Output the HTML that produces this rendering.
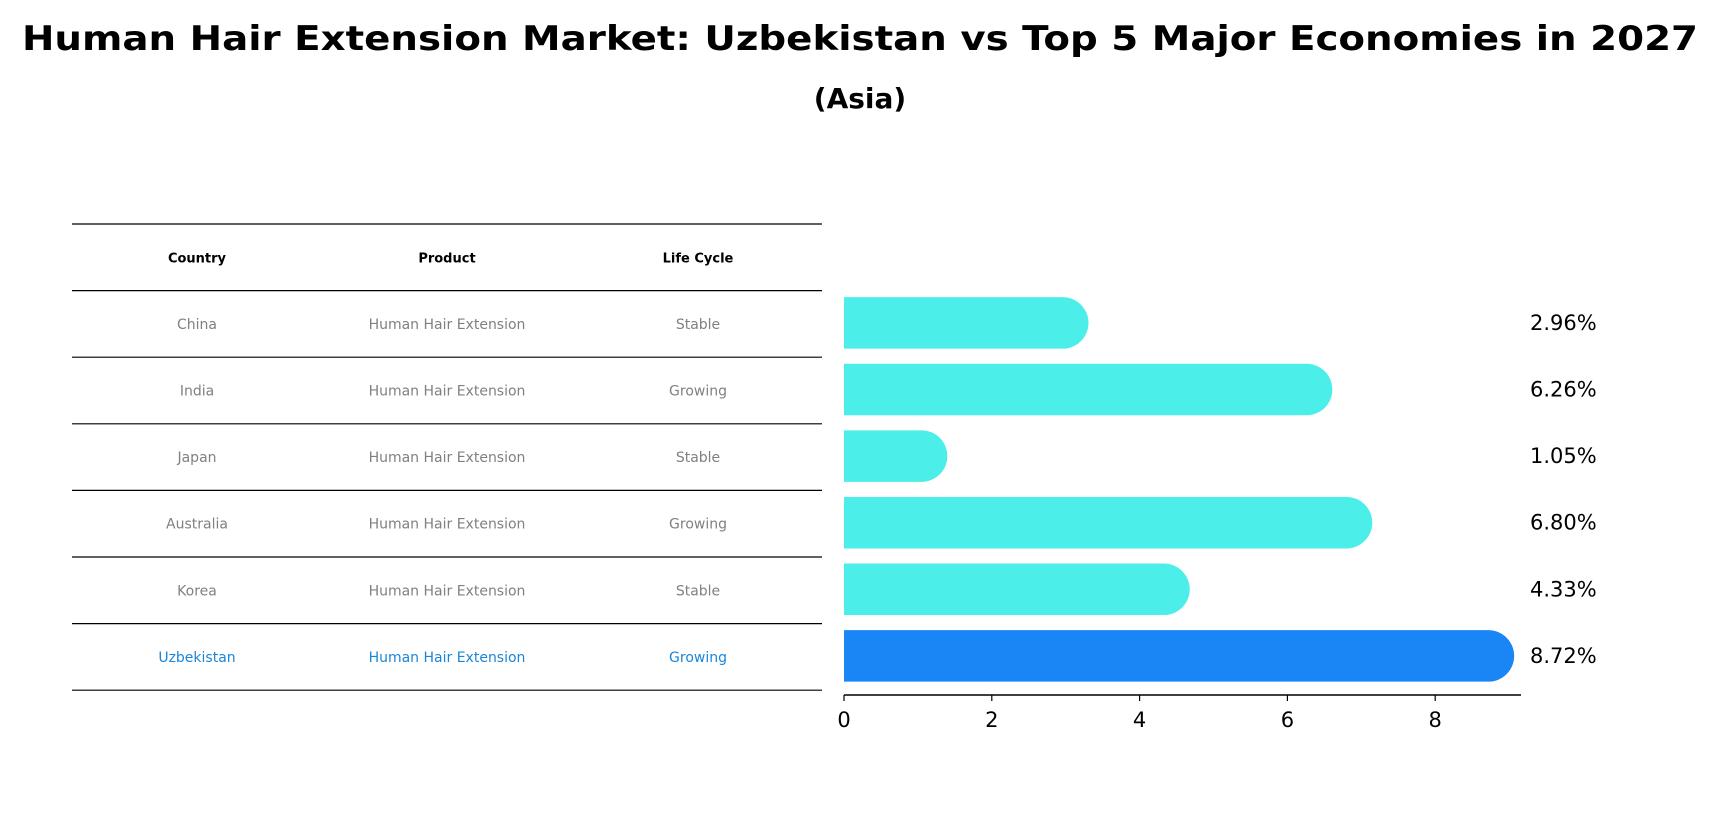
<!DOCTYPE html>
<html><head><meta charset="utf-8"><style>
html,body{margin:0;padding:0;background:#fff;}
svg{display:block;font-family:"DejaVu Sans","Liberation Sans",sans-serif;}
</style></head><body>
<svg id="chart" width="1719" height="823" viewBox="0 0 1719 823">
<text x="860" y="50" text-anchor="middle" font-size="34" font-weight="bold" textLength="1676" lengthAdjust="spacingAndGlyphs">Human Hair Extension Market: Uzbekistan vs Top 5 Major Economies in 2027</text>
<text x="860" y="108" text-anchor="middle" font-size="28" font-weight="bold">(Asia)</text>
<g id="table"></g>
<g id="bars"></g>
</svg>
<script>
const countries = ["China","India","Japan","Australia","Korea","Uzbekistan"];
const products = ["Human Hair Extension","Human Hair Extension","Human Hair Extension","Human Hair Extension","Human Hair Extension","Human Hair Extension"];
const lifeCycles = ["Stable","Growing","Stable","Growing","Stable","Growing"];
const growth = [2.96,6.26,1.05,6.80,4.33,8.72];
const tickValues = [0,2,4,6,8];
const headers = ["Country","Product","Life Cycle"];

const NS="http://www.w3.org/2000/svg";
function mk(tag,attrs,parent){const e=document.createElementNS(NS,tag);for(const k in attrs)e.setAttribute(k,attrs[k]);parent.appendChild(e);return e;}
const table=document.getElementById('table');
const bars=document.getElementById('bars');
const lineYs0=224, rowH=66.6, tx0=72, tx1=822;
const colX=[197,447,698];
// header
headers.forEach((h,i)=>{
  const t=mk('text',{x:colX[i],y:lineYs0+rowH/2+5,'text-anchor':'middle','font-size':13,'font-weight':'bold',fill:'#000'},table);
  t.textContent=h;
  
  
});
for(let i=0;i<=countries.length+1;i++){
  const y=lineYs0+i*rowH;
  const l=mk('line',{x1:tx0,x2:tx1,y1:y,y2:y,stroke:'#000','stroke-width':1.2},table);
  
  
}
// bar axis
const x0=844, unit=73.9, barH=51.5;
function xs(v){return x0+v*unit;}
function rowY(i){return lineYs0+rowH*(i+1.5);}
countries.forEach((c,i)=>{
  const hl=(c==="Uzbekistan");
  const col=hl?'#1a86d8':'#808080';
  const yc=rowY(i)+5;
  [c,products[i],lifeCycles[i]].forEach((txt,j)=>{
    const t=mk('text',{x:colX[j],y:yc,'text-anchor':'middle','font-size':14,fill:col},table);
    t.textContent=txt;
    
    
  });
  const by=rowY(i)-1;
  const xe=xs(growth[i]);
  const r=barH/2;
  const p=mk('path',{d:`M${x0},${by-r} L${xe},${by-r} A${r},${r} 0 0 1 ${xe},${by+r} L${x0},${by+r} Z`,fill:hl?'#1a86f5':'#4beee9'},bars);
  
  
  const lt=mk('text',{x:1530,y:by+7,'font-size':21,fill:'#000'},bars);
  lt.textContent=growth[i].toFixed(2)+'%';
  
  
});
const axY=695;
const ax=mk('line',{x1:x0,x2:1521,y1:axY,y2:axY,stroke:'#000','stroke-width':1.5},bars);


tickValues.forEach(v=>{
  const tk=mk('line',{x1:xs(v),x2:xs(v),y1:axY,y2:axY+6,stroke:'#000','stroke-width':1.2},bars);
  
  
  const tl=mk('text',{x:xs(v),y:axY+32,'text-anchor':'middle','font-size':21,fill:'#000'},bars);
  tl.textContent=v;
  
  
});
</script>
</body></html>
